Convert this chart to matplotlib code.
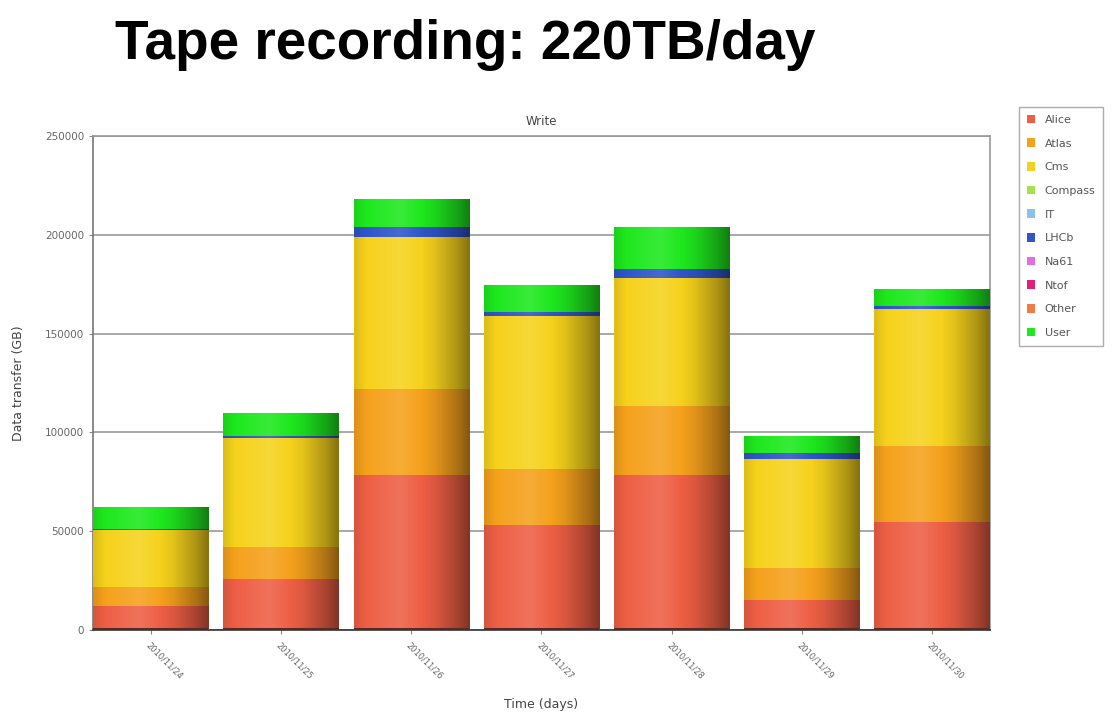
import numpy as np
import matplotlib.pyplot as plt
from matplotlib.patches import Patch

dates = ['2010/11/24', '2010/11/25', '2010/11/26', '2010/11/27',
         '2010/11/28', '2010/11/29', '2010/11/30']
experiments = ['Alice', 'Atlas', 'Cms', 'Compass', 'IT', 'LHCb',
               'Na61', 'Ntof', 'Other', 'User']
colors = ['#ee5f45', '#f5a11c', '#f6d21c', '#a8e04a', '#8cc0f0',
          '#2f55c8', '#e070e0', '#e0207a', '#f07a48', '#1ee81e']

alice = [12200, 25700, 78200, 53300, 78200, 15200, 54500]
atlas = [9500, 16100, 44000, 28300, 35200, 16100, 38500]
cms = [28700, 55500, 76600, 77400, 64600, 55300, 69400]
compass = [0, 0, 0, 0, 0, 0, 0]
it = [0, 0, 0, 0, 0, 0, 0]
lhcb = [500, 1000, 5100, 2100, 4700, 3100, 1400]
na61 = [0, 0, 0, 0, 0, 0, 0]
ntof = [0, 0, 0, 0, 0, 0, 0]
other = [0, 0, 0, 0, 0, 0, 0]
user = [10900, 11200, 13900, 13200, 20900, 8100, 8400]

series = [alice, atlas, cms, compass, it, lhcb, na61, ntof, other, user]

fig = plt.figure(figsize=(11.17, 7.21), dpi=100)
ax = fig.add_axes([0.0833, 0.1262, 0.8027, 0.6852])

x = np.arange(len(dates))
width = 0.885
bottom = np.zeros(len(dates))

# horizontal shading profile to mimic the cylinder look
t = np.linspace(0, 1, 64)
prof = np.interp(t, [0, 0.1, 0.4, 0.7, 0.9, 1.0], [0.9, 1.0, 1.12, 0.92, 0.7, 0.55])

def shade(color):
    c = np.array(plt.matplotlib.colors.to_rgb(color))
    img = np.zeros((1, len(t), 3))
    for i, f in enumerate(prof):
        if f <= 1:
            img[0, i] = c * f
        else:
            img[0, i] = c + (1 - c) * (f - 1)
    return np.clip(img, 0, 1)

for name, vals, col in zip(experiments, series, colors):
    vals = np.array(vals, dtype=float)
    bars = ax.bar(x, vals, width, bottom=bottom, color=col, linewidth=0, zorder=2)
    img = shade(col)
    for b, v in zip(bars, vals):
        if v <= 0:
            continue
        ax.imshow(img, extent=[b.get_x(), b.get_x() + b.get_width(),
                               b.get_y(), b.get_y() + b.get_height()],
                  aspect='auto', zorder=3, interpolation='bilinear')
    bottom += vals

# dark base line under bars
ax.bar(x, 800, width, bottom=0, color='#5a2a20', linewidth=0, zorder=4)

ax.set_xlim(-width / 2, len(dates) - 1 + width / 2)
ax.set_ylim(0, 250000)
ax.set_yticks(np.arange(0, 250001, 50000))
ax.set_yticklabels([str(v) for v in range(0, 250001, 50000)], fontsize=7.5, color='#666666')
ax.set_xticks(x)
ax.set_xticklabels(dates, rotation=-45, ha='left', va='top', fontsize=6,
                   color='#666666', rotation_mode='anchor')
ax.tick_params(axis='both', length=3, color='#888888')
ax.tick_params(axis='x', pad=5)
ax.grid(axis='y', color='#999999', linewidth=1.2, zorder=0)
for s in ax.spines.values():
    s.set_color('#999999')
    s.set_linewidth(1.2)
ax.spines['left'].set_color('#777777')
ax.spines['bottom'].set_color('#333333')

ax.set_title('Write', fontsize=8.5, color='#444444', pad=8)
ax.set_ylabel('Data transfer (GB)', fontsize=9, color='#444444', labelpad=14)
ax.set_xlabel('Time (days)', fontsize=9, color='#444444', labelpad=12)

fig.text(0.103, 0.937, 'Tape recording: 220TB/day', fontsize=39.5, fontweight='bold',
         family='Liberation Sans', ha='left', va='center')

handles = [Patch(facecolor=c, edgecolor='none') for c in colors]
leg = fig.legend(handles, experiments, loc='upper left',
                 bbox_to_anchor=(1019 / 1117, 1 - 107 / 721),
                 fontsize=8, handlelength=0.7, handleheight=0.8, handletextpad=0.9,
                 labelspacing=1.22, borderpad=0.7, borderaxespad=0,
                 frameon=True, fancybox=False)
leg.get_frame().set_edgecolor('#999999')
for txt in leg.get_texts():
    txt.set_color('#555555')

fig.savefig('out.png', dpi=100)
